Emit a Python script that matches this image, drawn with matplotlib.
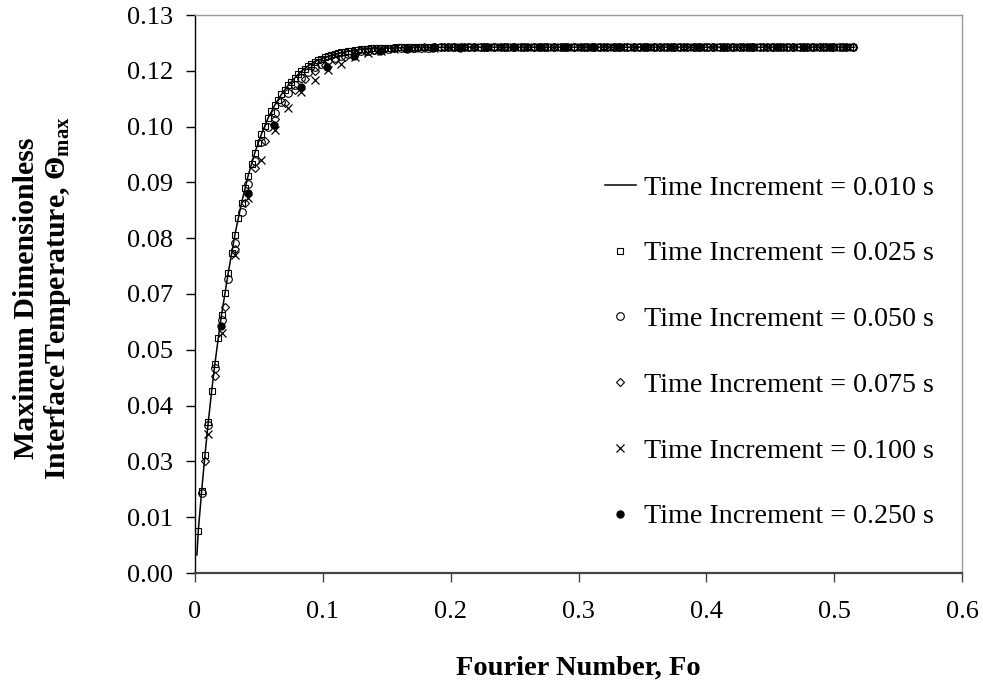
import numpy as np
import matplotlib
matplotlib.use('Agg')
import matplotlib.pyplot as plt

plt.rcParams['font.family'] = ['Liberation Serif', 'DejaVu Serif']
plt.rcParams['mathtext.fontset'] = 'custom'
plt.rcParams['mathtext.rm'] = 'Liberation Serif'
plt.rcParams['mathtext.bf'] = 'Liberation Serif:bold'
plt.rcParams['mathtext.it'] = 'Liberation Serif:italic'

# ---------------- data ----------------
labels = ["Time Increment = 0.010 s", "Time Increment = 0.025 s",
          "Time Increment = 0.050 s", "Time Increment = 0.075 s",
          "Time Increment = 0.100 s", "Time Increment = 0.250 s"]

# reference solution, dt = 0.010 s (solid line)
fo_010 = [0.0015, 0.0026, 0.0052, 0.0078, 0.0104, 0.0130, 0.0156, 0.0182, 0.0208,
          0.0260, 0.0312, 0.0364, 0.0416, 0.0468, 0.0520, 0.0572, 0.0624, 0.0676,
          0.0728, 0.0780, 0.0832, 0.0884, 0.0936, 0.1014, 0.1092, 0.1170, 0.1300,
          0.1404, 0.1500, 0.1700, 0.2000, 0.3000, 0.4000, 0.5160]
theta_010 = [0.0042, 0.0099, 0.0191, 0.0275, 0.0352, 0.0423, 0.0488, 0.0547, 0.0602,
             0.0699, 0.0788, 0.0862, 0.0926, 0.0979, 0.1023, 0.1060, 0.1090, 0.1115,
             0.1136, 0.1153, 0.1169, 0.1181, 0.1191, 0.1201, 0.1209, 0.1214, 0.1220,
             0.1222, 0.1223, 0.1224, 0.1225, 0.1225, 0.1225, 0.1225]

dfo_025 = 0.0026
dfo_050 = 0.0052
dfo_075 = 0.0078
dfo_100 = 0.0104
dfo_250 = 0.0207
theta_plateau = 0.1225

theta_025 = [0.0099, 0.0191, 0.0275, 0.0352, 0.0423, 0.0488, 0.0547, 0.0602, 0.0653, 0.0699,
             0.0746, 0.0788, 0.0826, 0.0862, 0.0896, 0.0926, 0.0954, 0.0979, 0.1002, 0.1023,
             0.1042, 0.1060, 0.1076, 0.1090, 0.1103, 0.1115, 0.1126, 0.1136, 0.1145, 0.1153,
             0.1162, 0.1169, 0.1175, 0.1181, 0.1186, 0.1191, 0.1195, 0.1198, 0.1201, 0.1204,
             0.1207, 0.1209, 0.1211, 0.1213, 0.1214, 0.1216, 0.1217, 0.1218, 0.1219, 0.1220,
             0.1220, 0.1221, 0.1222, 0.1222, 0.1222, 0.1223, 0.1223, 0.1223, 0.1224, 0.1224] \
            + [theta_plateau] * 138
theta_050 = [0.0186, 0.0345, 0.0478, 0.0590, 0.0685, 0.0768, 0.0842, 0.0906, 0.0959, 0.1003,
             0.1040, 0.1071, 0.1097, 0.1119, 0.1137, 0.1153, 0.1167, 0.1178, 0.1187, 0.1194,
             0.1200, 0.1205, 0.1209, 0.1212, 0.1215, 0.1217, 0.1219, 0.1220, 0.1221, 0.1222,
             0.1223, 0.1224, 0.1224, 0.1224, 0.1224] + [theta_plateau] * 64
theta_075 = [0.0260, 0.0458, 0.0620, 0.0755, 0.0861, 0.0943, 0.1007, 0.1057, 0.1096, 0.1125,
             0.1150, 0.1169, 0.1183, 0.1195, 0.1203, 0.1210, 0.1215, 0.1219, 0.1221, 0.1222,
             0.1223, 0.1224] + [theta_plateau] * 44
theta_100 = [0.0324, 0.0558, 0.0741, 0.0873, 0.0962, 0.1032, 0.1083, 0.1121, 0.1149, 0.1172,
             0.1187, 0.1203, 0.1212, 0.1217, 0.1220, 0.1222, 0.1223, 0.1224] + [theta_plateau] * 31
theta_250 = [0.0575, 0.0885, 0.1044, 0.1133, 0.1180, 0.1205, 0.1216, 0.1221, 0.1223, 0.1224] \
            + [theta_plateau] * 14

x_ticks = [0, 0.1, 0.2, 0.3, 0.4, 0.5, 0.6]
x_ticklabels = ["0", "0.1", "0.2", "0.3", "0.4", "0.5", "0.6"]
y_ticklabels = ["0.00", "0.01", "0.03", "0.04", "0.05", "0.07", "0.08",
                "0.09", "0.10", "0.12", "0.13"]
y_max = 0.13


def steps(dfo, vals):
    return dfo * np.arange(1, len(vals) + 1)


# ---------------- figure ----------------
W, H = 983, 682
fig = plt.figure(figsize=(W / 100, H / 100), dpi=100)
x0, x1, y0, y1 = 195, 962, 573, 15
ax = fig.add_axes([x0 / W, 1 - y0 / H, (x1 - x0) / W, (y0 - y1) / H])

mk = dict(ls='none', mfc='none', mec='black', color='black', mew=0.8)
h0, = ax.plot(fo_010, theta_010, color='black', lw=1.1, label=labels[0], zorder=2)
h1, = ax.plot(steps(dfo_025, theta_025), theta_025, marker='s', ms=5, label=labels[1], zorder=3, **mk)
h2, = ax.plot(steps(dfo_050, theta_050), theta_050, marker='o', ms=5.5, label=labels[2], zorder=4, **mk)
h3, = ax.plot(steps(dfo_075, theta_075), theta_075, marker='D', ms=4.5, label=labels[3], zorder=5, **mk)
h4, = ax.plot(steps(dfo_100, theta_100), theta_100, marker='x', ms=6, label=labels[4], zorder=6,
              ls='none', color='black', mew=0.9)
h5, = ax.plot(steps(dfo_250, theta_250), theta_250, marker='o', ms=5, label=labels[5], zorder=7,
              ls='none', color='black', mfc='black', mec='black')

ax.set_xlim(0, 0.6)
ax.set_ylim(0, y_max)
ax.set_xticks(x_ticks)
ax.set_xticklabels(x_ticklabels)
ax.set_yticks(np.linspace(0, y_max, len(y_ticklabels)))
ax.set_yticklabels(y_ticklabels)

for s in ('top', 'right'):
    ax.spines[s].set_color('#9a9a9a')
    ax.spines[s].set_linewidth(1.0)
ax.spines['left'].set_color('black')
ax.spines['left'].set_linewidth(1.0)
ax.spines['bottom'].set_color('#444444')
ax.spines['bottom'].set_linewidth(1.6)

ax.tick_params(axis='both', direction='out', length=6.5, labelsize=19)
ax.tick_params(axis='y', colors='black', width=1.0, pad=9)
ax.tick_params(axis='x', colors='#444444', width=1.0, pad=14, labelcolor='black')

fig.text((x0 + x1) / 2 / W, 1 - 668 / H, "Fourier Number, Fo", ha='center', va='center',
         fontsize=20.5, fontweight='bold')
fig.text(43 / W, 1 - 298 / H,
         "Maximum Dimensionless\nInterfaceTemperature, $\\mathbf{\\Theta_{max}}$",
         rotation=90, ha='center', va='center', multialignment='center',
         fontsize=21.5, fontweight='bold', linespacing=1.05)

leg = ax.legend(handles=[h0, h1, h2, h3, h4, h5], loc='upper left',
                bbox_to_anchor=(605 / W, 1 - 175 / H), bbox_transform=fig.transFigure,
                frameon=False, fontsize=20.2, handlelength=1.1, handletextpad=0.3,
                labelspacing=1.43, borderpad=0, borderaxespad=0, numpoints=1)

fig.savefig('out.png', dpi=100)
